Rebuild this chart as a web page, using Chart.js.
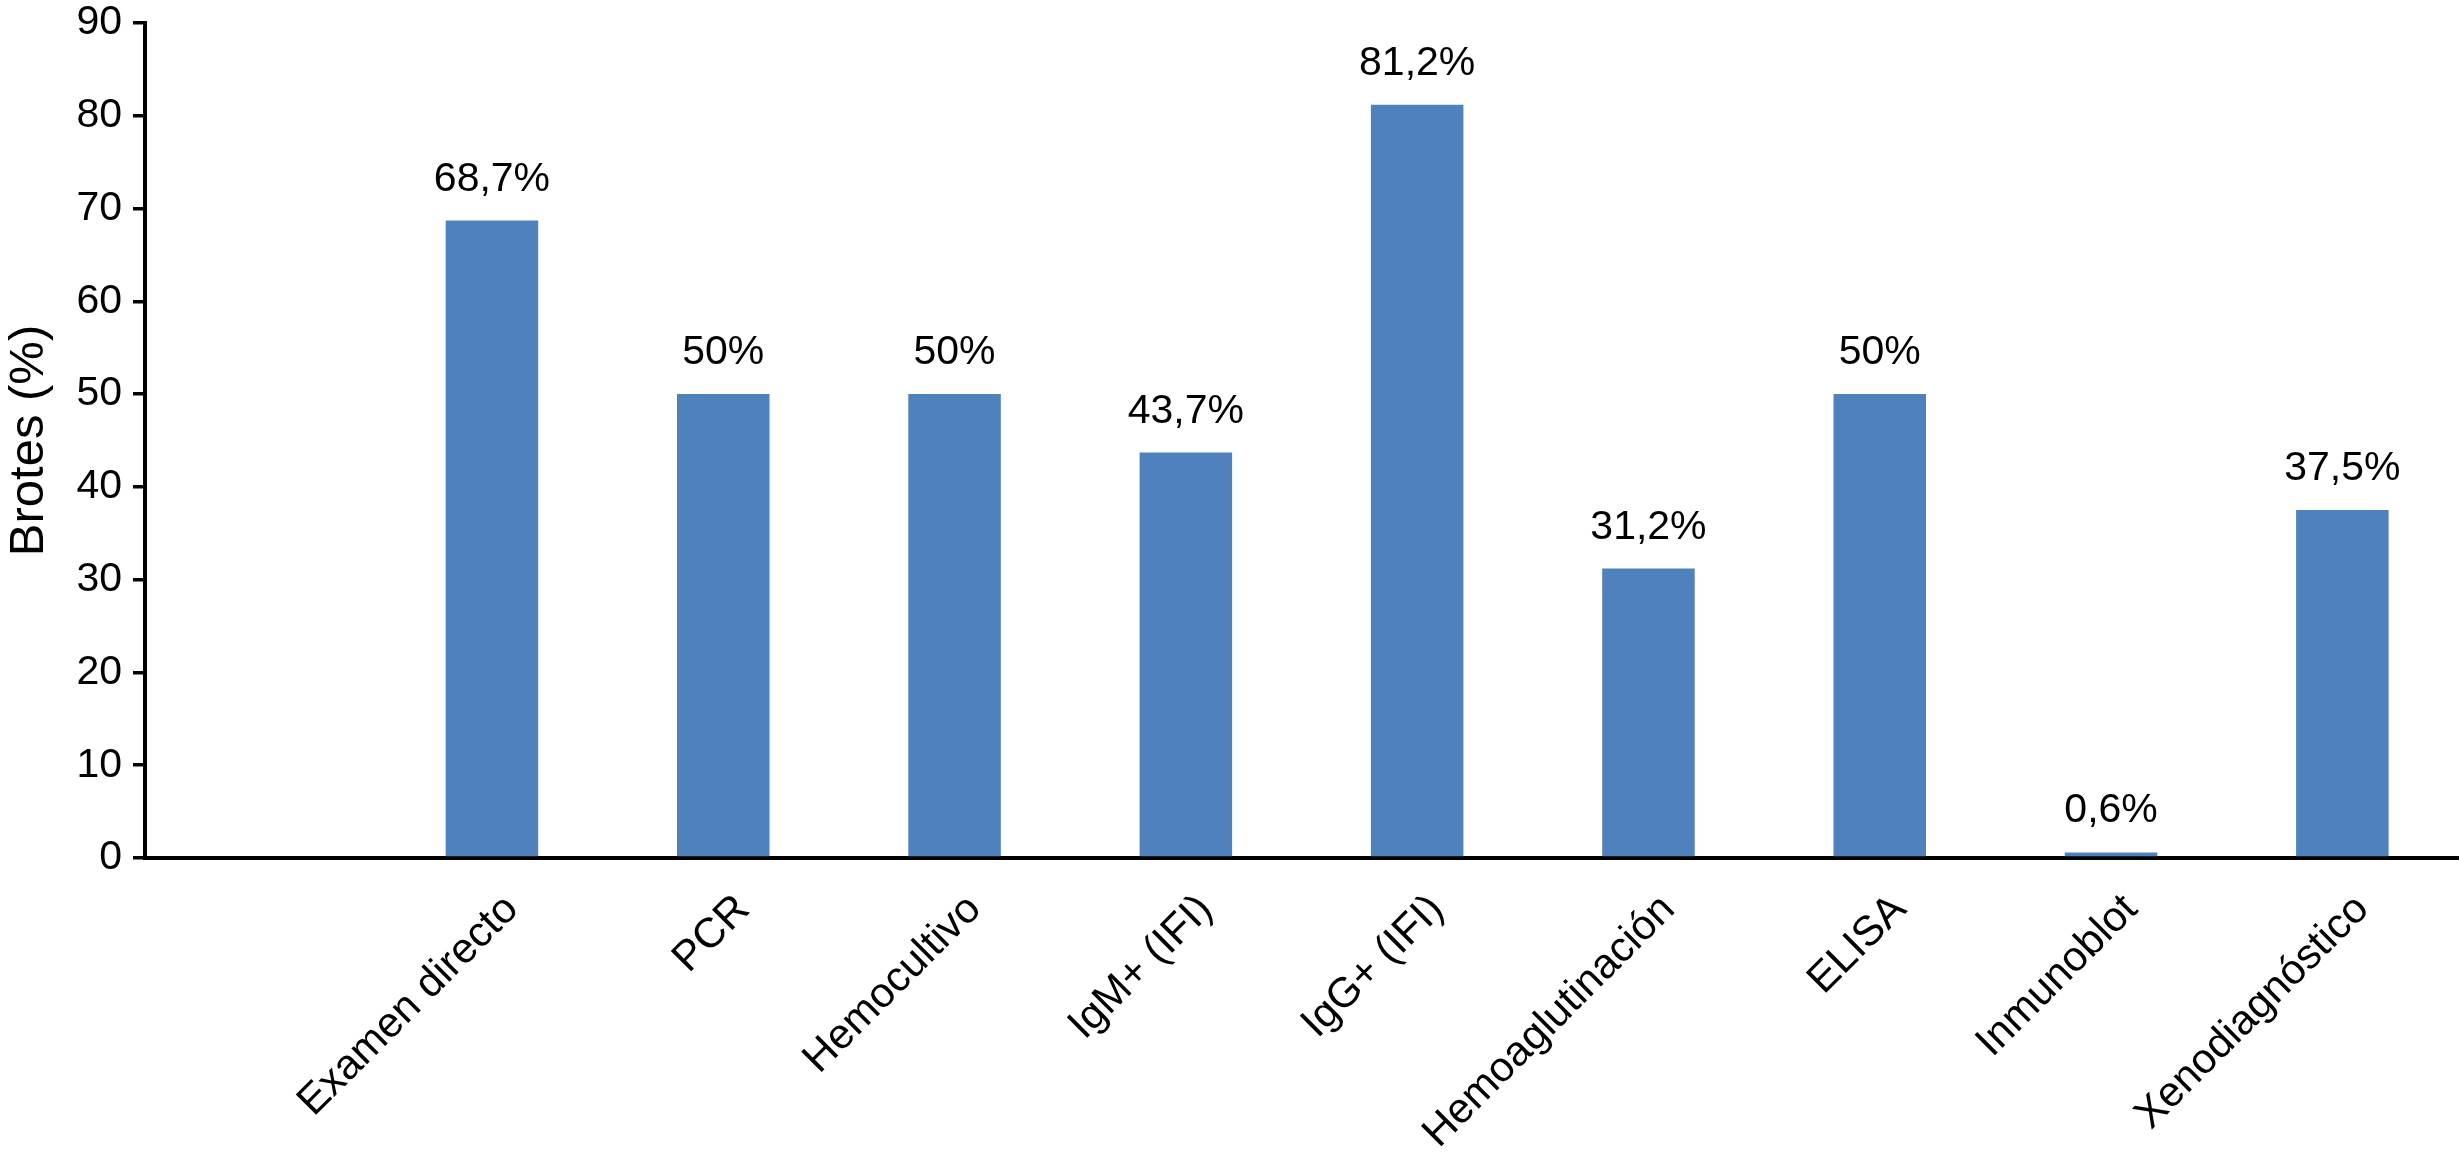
<!DOCTYPE html>
<html lang="es">
<head>
<meta charset="utf-8">
<title>Brotes (%)</title>
<script src="https://cdn.jsdelivr.net/npm/chart.js@4.4.1/dist/chart.umd.min.js"></script>
<style>
  html, body { margin: 0; padding: 0; background: #fff; }
  #grafico { display: block; }
</style>
</head>
<body>
<canvas id="grafico" width="2460" height="1155"></canvas>
<script>
// Datos del gráfico (primera categoría vacía, como en el original)
const categorias = ["", "Examen directo", "PCR", "Hemocultivo", "IgM+ (IFI)", "IgG+ (IFI)",
    "Hemoaglutinación", "ELISA", "Inmunoblot", "Xenodiagnóstico"];
const brotes = [null, 68.7, 50, 50, 43.7, 81.2, 31.2, 50, 0.6, 37.5];
const ejeYMin = 0;
const ejeYMax = 90;
const ejeYPaso = 10;

const fuente = "'Liberation Sans', Arial, Helvetica, sans-serif";

// Etiquetas de porcentaje encima de cada barra
const etiquetasValor = {
    id: "etiquetasValor",
    afterDatasetsDraw(chart) {
        const ctx = chart.ctx;
        const meta = chart.getDatasetMeta(0);
        ctx.save();
        ctx.font = "41px " + fuente;
        ctx.fillStyle = "#000";
        ctx.textAlign = "center";
        ctx.textBaseline = "alphabetic";
        meta.data.forEach(function (barra, i) {
            const v = brotes[i];
            if (v === null) return;
            const texto = String(v).replace(".", ",") + "%";
            ctx.fillText(texto, barra.x, barra.y - 30);
        });
        ctx.restore();
    }
};

const ctx = document.getElementById("grafico").getContext("2d");

new Chart(ctx, {
    type: "bar",
    data: {
        labels: categorias,
        datasets: [{
            label: "Brotes (%)",
            data: brotes,
            backgroundColor: "#4F81BD",
            borderWidth: 0,
            categoryPercentage: 1,
            barPercentage: 0.4
        }]
    },
    options: {
        responsive: false,
        animation: false,
        layout: { padding: { top: 23, right: 2, left: 0, bottom: 0 } },
        plugins: {
            legend: { display: false },
            tooltip: { enabled: false }
        },
        scales: {
            x: {
                grid: { display: false },
                border: { display: true, color: "#000", width: 4 },
                ticks: {
                    color: "#000",
                    font: { family: fuente, size: 42 },
                    minRotation: 45,
                    maxRotation: 45,
                    autoSkip: false,
                    padding: 19,
                    labelOffset: 20
                },
                afterFit(scale) {
                    scale.height = 297;
                    scale.paddingLeft = 0;
                    scale.paddingRight = 0;
                }
            },
            y: {
                min: ejeYMin,
                max: ejeYMax,
                ticks: {
                    stepSize: ejeYPaso,
                    color: "#000",
                    font: { family: fuente, size: 41 },
                    padding: 11
                },
                grid: {
                    display: true,
                    drawOnChartArea: false,
                    drawTicks: true,
                    tickLength: 12,
                    color: "#000",
                    lineWidth: 3.5
                },
                border: { display: true, color: "#000", width: 4 },
                title: {
                    display: true,
                    text: "Brotes (%)",
                    color: "#000",
                    font: { family: fuente, size: 49 },
                    padding: { top: 0, bottom: 0 }
                },
                afterFit(scale) {
                    scale.width = 145;
                    scale.paddingTop = 0;
                    scale.paddingBottom = 0;
                }
            }
        }
    },
    plugins: [etiquetasValor]
});
</script>
</body>
</html>
